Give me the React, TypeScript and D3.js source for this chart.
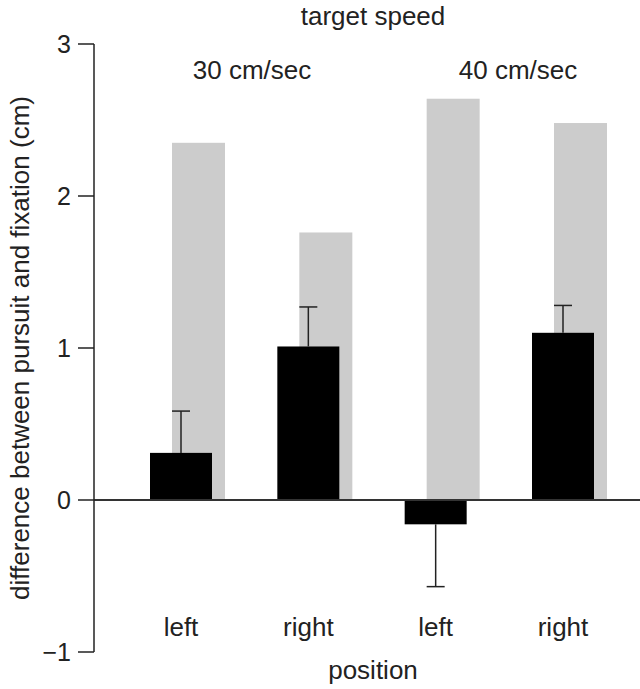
import React from "react";
import * as d3 from "d3";

const positions = ["left", "right", "left", "right"];
const speedGroups = ["30 cm/sec", "40 cm/sec"];
const fixationValues = [2.35, 1.76, 2.64, 2.48];
const pursuitValues = [0.31, 1.01, -0.16, 1.1];
const errorValues = [0.275, 0.26, 0.41, 0.18];
const yTicks = [-1, 0, 1, 2, 3];

const W = 640;
const H = 689;
const FONT = "'Liberation Sans', Arial, Helvetica, sans-serif";
const INK = "#222";

export default function App() {
  const idx = positions.map((_, i) => i);
  const x = d3.scalePoint<number>().domain(idx).range([181, 563]);
  const y = d3.scaleLinear().domain([-1, 3]).range([652, 44]);
  const axisX = 94;
  const blackW = 62;
  const grayW = 53;
  const grayOff = -9;
  // speed labels sit roughly over each pair of bars
  const groupX = [252, 518];

  return (
    <svg
      width={W}
      height={H}
      style={{ position: "absolute", left: 0, top: 0, background: "#fff" }}
      fontFamily={FONT}
      fill={INK}
    >
      {/* fixation bars (grey, behind) */}
      {idx.map((i) => (
        <rect
          key={"g" + i}
          x={(x(i) as number) + grayOff}
          width={grayW}
          y={y(Math.max(0, fixationValues[i]))}
          height={Math.abs(y(fixationValues[i]) - y(0))}
          fill="#cccccc"
        />
      ))}

      {/* pursuit bars */}
      {idx.map((i) => (
        <rect
          key={"b" + i}
          x={(x(i) as number) - blackW / 2}
          width={blackW}
          y={y(Math.max(0, pursuitValues[i]))}
          height={Math.abs(y(pursuitValues[i]) - y(0))}
          fill="#000"
        />
      ))}

      {/* one-sided error bars */}
      <g stroke={INK} strokeWidth={1.5}>
        {idx.map((i) => {
          const v = pursuitValues[i];
          const end = v >= 0 ? v + errorValues[i] : v - errorValues[i];
          const cx = x(i) as number;
          return (
            <g key={"e" + i}>
              <line x1={cx} x2={cx} y1={y(v)} y2={y(end)} />
              <line x1={cx - 9} x2={cx + 9} y1={y(end)} y2={y(end)} />
            </g>
          );
        })}
      </g>

      {/* zero line */}
      <line x1={axisX} x2={W} y1={y(0)} y2={y(0)} stroke="#333" strokeWidth={2} />

      {/* y axis */}
      <g stroke="#222" strokeWidth={1.5}>
        <line x1={axisX} x2={axisX} y1={y(3)} y2={y(-1)} />
        {yTicks.map((t) => (
          <line key={t} x1={axisX - 16} x2={axisX} y1={y(t)} y2={y(t)} />
        ))}
      </g>
      <g fontSize={25} textAnchor="end">
        {yTicks.map((t) => (
          <text key={t} x={71} y={y(t)} dy="0.36em">
            {t < 0 ? "\u2212" + Math.abs(t) : t}
          </text>
        ))}
      </g>

      <text
        transform={`translate(29,${y(1)}) rotate(-90)`}
        textAnchor="middle"
        fontSize={26}
      >
        difference between pursuit and fixation (cm)
      </text>

      {/* top labels */}
      <text x={373} y={25} textAnchor="middle" fontSize={26}>
        target speed
      </text>
      {speedGroups.map((g, k) => (
        <text key={g} x={groupX[k]} y={79} textAnchor="middle" fontSize={26}>
          {g}
        </text>
      ))}

      {/* position labels */}
      {idx.map((i) => (
        <text key={"p" + i} x={x(i) as number} y={636} textAnchor="middle" fontSize={26}>
          {positions[i]}
        </text>
      ))}
      <text x={373} y={679} textAnchor="middle" fontSize={26}>
        position
      </text>
    </svg>
  );
}
